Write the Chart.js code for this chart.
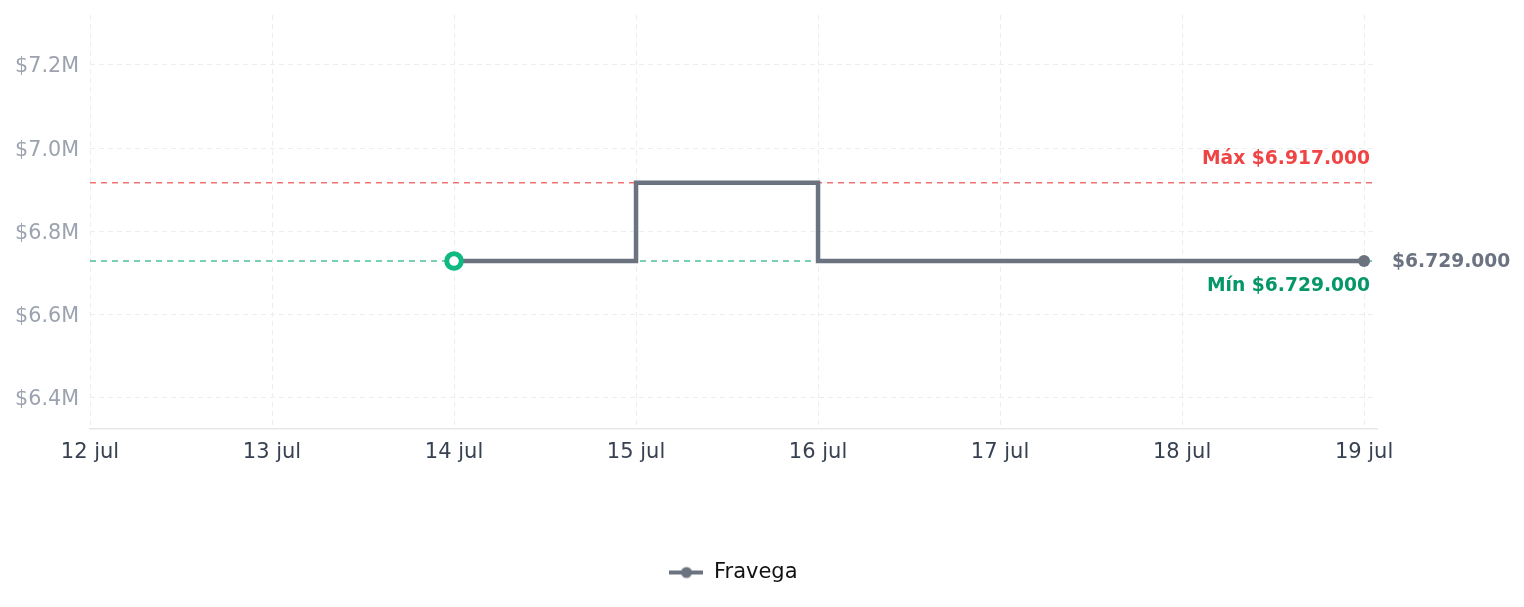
<!DOCTYPE html>
<html>
<head>
<meta charset="utf-8">
<script src="https://cdn.jsdelivr.net/npm/chart.js@4"></script>
<style>
  html, body { margin: 0; padding: 0; background: #fff; }
  .wrap { width: 1524px; height: 607px; position: relative; }
</style>
</head>
<body>
<div class="wrap"><canvas id="chart"></canvas></div>
<script>
// days of July and the price seen each day
const days = [14, 15, 16, 17, 18, 19];
const prices = [6729000, 6917000, 6729000, 6729000, 6729000, 6729000];
const storeName = 'Fravega';
const maxPrice = 6917000;
const minPrice = 6729000;
const xTicks = [12, 13, 14, 15, 16, 17, 18, 19];
const yTicks = [6400000, 6600000, 6800000, 7000000, 7200000];
const xMin = 12;
const xMax = 19.071;
const yMin = 6325500;
const yMax = 7320000;
const monthLabel = 'jul';

const GRAY = '#6b7280';
const GREEN = '#10b981';

function fmtPrice(v) {
  return '$' + String(Math.round(v)).replace(/\B(?=(\d{3})+(?!\d))/g, '.');
}

// legend icon: line with a dot
const legendIcon = document.createElement('canvas');
legendIcon.width = 34;
legendIcon.height = 14;
(function () {
  const c = legendIcon.getContext('2d');
  c.strokeStyle = GRAY;
  c.lineWidth = 4;
  c.beginPath(); c.moveTo(0, 7); c.lineTo(34, 7); c.stroke();
  c.fillStyle = GRAY;
  c.beginPath(); c.arc(17, 7, 5.5, 0, Math.PI * 2); c.fill();
})();

const last = days.length - 1;
const radii = days.map((d, i) => (i === 0 ? 7.3 : i === last ? 6 : 0));
const fills = days.map((d, i) => (i === 0 ? '#ffffff' : GRAY));
const borders = days.map((d, i) => (i === 0 ? GREEN : GRAY));
const borderWidths = days.map((d, i) => (i === 0 ? 5 : 0));

const labelsPlugin = {
  id: 'priceLabels',
  afterDatasetsDraw(chart) {
    const { ctx, chartArea, scales } = chart;
    const y = scales.y, x = scales.x;
    ctx.save();
    ctx.font = 'bold 18.7px "DejaVu Sans"';
    ctx.textAlign = 'right';
    ctx.textBaseline = 'middle';
    ctx.fillStyle = '#ef4444';
    ctx.fillText('Máx ' + fmtPrice(maxPrice), chartArea.right - 7, y.getPixelForValue(maxPrice) - 24);
    ctx.fillStyle = '#059669';
    ctx.fillText('Mín ' + fmtPrice(minPrice), chartArea.right - 7, y.getPixelForValue(minPrice) + 25);
    ctx.textAlign = 'left';
    ctx.fillStyle = GRAY;
    ctx.fillText(fmtPrice(prices[last]), x.getPixelForValue(days[last]) + 28, y.getPixelForValue(prices[last]) + 1);
    ctx.restore();
  }
};

Chart.defaults.font.family = '"DejaVu Sans", sans-serif';

new Chart(document.getElementById('chart'), {
  type: 'line',
  data: {
    datasets: [
      {
        label: storeName,
        data: days.map((d, i) => ({ x: d, y: prices[i] })),
        borderColor: GRAY,
        borderWidth: 4.5,
        stepped: true,
        pointRadius: radii,
        pointHoverRadius: radii,
        pointBackgroundColor: fills,
        pointBorderColor: borders,
        pointBorderWidth: borderWidths,
        fill: false
      },
      {
        label: 'max',
        data: [{ x: xMin, y: maxPrice }, { x: xMax, y: maxPrice }],
        borderColor: 'rgba(239, 68, 68, 0.75)',
        borderWidth: 1.5,
        borderDash: [6, 5],
        pointRadius: 0
      },
      {
        label: 'min',
        data: [{ x: xMin, y: minPrice }, { x: xMax, y: minPrice }],
        borderColor: 'rgba(16, 170, 120, 0.75)',
        borderWidth: 1.5,
        borderDash: [6, 5],
        pointRadius: 0
      }
    ]
  },
  options: {
    responsive: true,
    maintainAspectRatio: false,
    animation: false,
    layout: { padding: { left: 16, right: 147, top: 15, bottom: 14 } },
    plugins: {
      tooltip: { enabled: false },
      legend: {
        position: 'bottom',
        fullSize: false,
        labels: {
          filter: item => item.datasetIndex === 0,
          usePointStyle: true,
          pointStyle: legendIcon,
          pointStyleWidth: 34,
          color: '#111111',
          padding: 10,
          font: { size: 21 }
        }
      }
    },
    scales: {
      x: {
        type: 'linear',
        min: xMin,
        max: xMax,
        afterBuildTicks: axis => {
          axis.ticks = xTicks.map(v => ({ value: v }));
        },
        afterFit: axis => { axis.height = 123; },
        ticks: {
          padding: 11,
          color: '#374151',
          font: { size: 21 },
          maxRotation: 0,
          autoSkip: false,
          callback: v => v + ' ' + monthLabel
        },
        grid: { color: '#ededed', drawTicks: false },
        border: { display: true, color: '#e5e7eb', width: 1.5, dash: [5, 4] }
      },
      y: {
        type: 'linear',
        min: yMin,
        max: yMax,
        afterBuildTicks: axis => {
          axis.ticks = yTicks.map(v => ({ value: v }));
        },
        afterFit: axis => { axis.width = 74; axis.paddingTop = 0; axis.paddingBottom = 0; },
        ticks: {
          padding: 11,
          labelOffset: 2,
          color: '#9ca3af',
          font: { size: 20.7 },
          autoSkip: false,
          callback: v => '$' + (v / 1e6).toFixed(1) + 'M'
        },
        grid: { color: '#ededed', drawTicks: false },
        border: { display: false, dash: [5, 4] }
      }
    }
  },
  plugins: [labelsPlugin]
});
</script>
</body>
</html>
